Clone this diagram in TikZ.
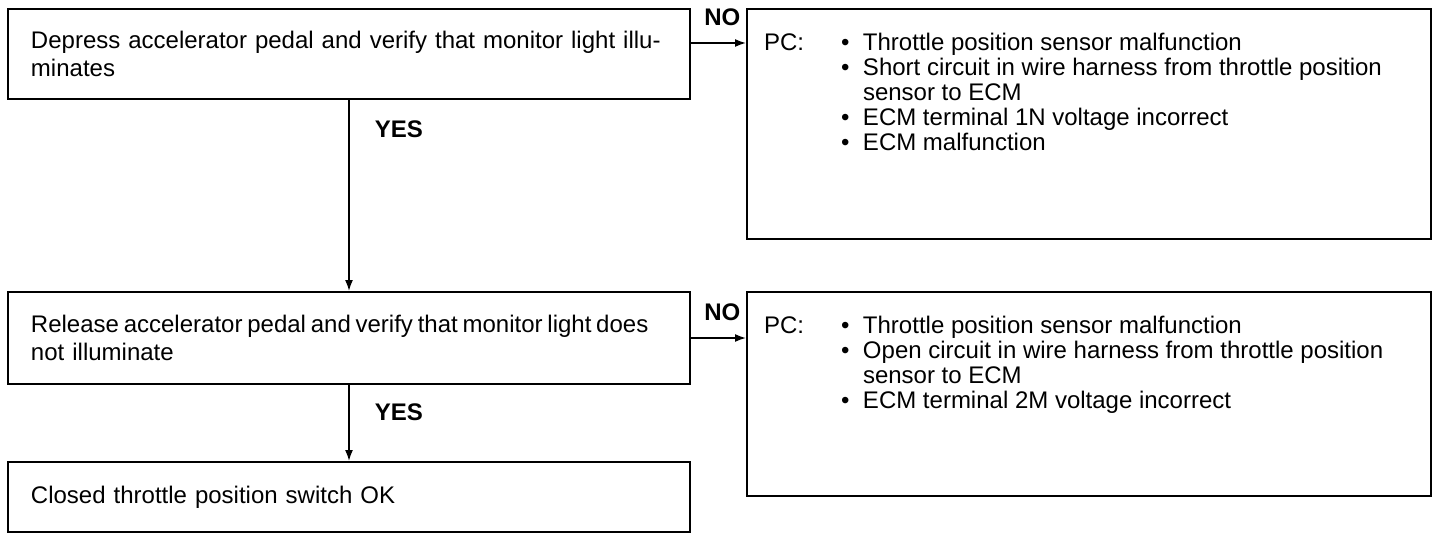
\documentclass[tikz,border=0pt]{standalone}
\usepackage{fontspec}
\setmainfont{Liberation Sans}
\usetikzlibrary{arrows.meta}
\begin{document}
\begin{tikzpicture}[x=0.5pt,y=-0.5pt,
  box/.style={draw, line width=1pt, anchor=north west, align=left, text width=318pt, inner xsep=11.5pt, inner ysep=0pt, font=\fontsize{12}{14}\selectfont},
  pcbox/.style={draw, line width=1pt, anchor=north west, inner xsep=8.5pt, inner ysep=12pt, font=\fontsize{12}{12.5}\selectfont},
  lbl/.style={font=\fontsize{12}{14}\selectfont\bfseries, inner sep=0pt},
  arr/.style={line width=0.8pt, -{Latex[length=5.5pt,width=4pt]}}]
\useasboundingbox (0,0) rectangle (1440,540);
\node[box, minimum height=45pt] (depress) at (7,8) {Depress accelerator pedal and verify that monitor light illu-\\minates};
\node[box, minimum height=46pt] (release) at (7,291) {\mbox{\spaceskip=0.2em Release accelerator pedal and verify that monitor light does}\\not illuminate};
\node[box, minimum height=35pt] (closed) at (7,461) {Closed throttle position switch OK};
\node[pcbox] (pcdepress) at (746,8) {\begin{minipage}[c][91pt][t]{325pt}\begin{tabular}{@{}p{38.5pt}@{}p{11pt}@{}l@{}}
PC: & \textbullet & Throttle position sensor malfunction\\
 & \textbullet & Short circuit in wire harness from throttle position\\
 & & sensor to ECM\\
 & \textbullet & ECM terminal 1N voltage incorrect\\
 & \textbullet & ECM malfunction
\end{tabular}\end{minipage}};
\node[pcbox] (pcrelease) at (746,291) {\begin{minipage}[c][78pt][t]{325pt}\begin{tabular}{@{}p{38.5pt}@{}p{11pt}@{}l@{}}
PC: & \textbullet & Throttle position sensor malfunction\\
 & \textbullet & Open circuit in wire harness from throttle position\\
 & & sensor to ECM\\
 & \textbullet & ECM terminal 2M voltage incorrect
\end{tabular}\end{minipage}};
\draw[arr] (depress.south) -- (release.north) node[lbl, pos=0.155, right=12.5pt] {YES};
\draw[arr] ([yshift=5.5pt]depress.east) -- ([yshift=5.5pt]depress.east -| pcdepress.west) node[lbl, pos=0.57, above=8pt] {NO};
\draw[arr] (release.east) -- (release.east -| pcrelease.west) node[lbl, pos=0.57, above=8pt] {NO};
\draw[arr] (release.south) -- (closed.north) node[lbl, pos=0.36, right=12.5pt] {YES};
\end{tikzpicture}
\end{document}
